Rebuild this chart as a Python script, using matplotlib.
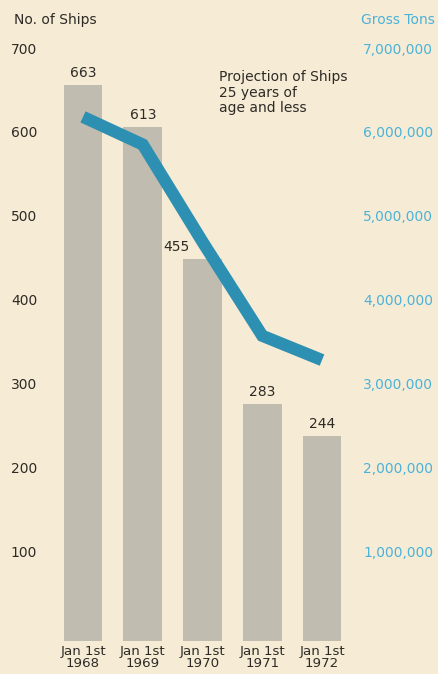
import numpy as np
import matplotlib.pyplot as plt
import matplotlib.transforms as mtransforms

years = ["1968", "1969", "1970", "1971", "1972"]
ships = [663, 613, 455, 283, 244]
tons = [6250000, 5920000, 4760000, 3640000, 3350000]
left_ticks = [100, 200, 300, 400, 500, 600, 700]
right_ticks = [1000000, 2000000, 3000000, 4000000, 5000000, 6000000, 7000000]

bg = "#f6ecd6"
bar_col = "#c0bcb0"
line_col = "#2d90b2"
blue_txt = "#4cb2d8"
txt = "#2e2b26"
fs = 10

plt.rcParams['font.family'] = ['DejaVu Sans']

fig = plt.figure(figsize=(4.38, 6.74), dpi=100, facecolor=bg)
ax = fig.add_axes([45/438, 33/674, 310/438, 587/674])
ax.set_facecolor(bg)
ax2 = ax.twinx()

x = np.arange(len(years))
ax.bar(x, ships, width=0.65, color=bar_col, zorder=1)
ax.set_xlim(-0.636, 4.552)
ax.set_ylim(0, 700)
ax2.set_ylim(0, 7000000)
ax2.plot(x, tons, color=line_col, lw=8.8, solid_capstyle='butt',
         solid_joinstyle='miter', zorder=3)

# value labels over bars
offs = [0, 0, -0.43, 0, 0]
for xi, v, o in zip(x, ships, offs):
    ax.text(xi + o, v + 6, str(v), ha='center', va='bottom', fontsize=fs, color=txt)

ax.text(2.28, 654, "Projection of Ships\n25 years of\nage and less", ha='left', va='center',
        fontsize=fs, color=txt, linespacing=1.15)

for a in (ax, ax2):
    for s in a.spines.values():
        s.set_visible(False)

ax.set_xticks(x)
ax.set_xticklabels(["Jan 1st\n" + y for y in years], fontsize=9.6, color=txt, linespacing=0.88)
ax.tick_params(axis='x', length=0, pad=3)

ax.set_yticks(left_ticks)
ax.set_yticklabels([str(t) for t in left_ticks], fontsize=fs, color=txt)
ax.tick_params(axis='y', length=0, pad=8)
for lab in ax.get_yticklabels():
    lab.set_horizontalalignment('left')
    lab.set_transform(lab.get_transform() + mtransforms.ScaledTranslation(-23/100, 6/100, fig.dpi_scale_trans))

ax2.set_yticks(right_ticks)
ax2.set_yticklabels([f"{t:,}" for t in right_ticks], fontsize=fs, color=blue_txt)
ax2.tick_params(axis='y', length=0, pad=6)
for lab in ax2.get_yticklabels():
    lab.set_transform(lab.get_transform() + mtransforms.ScaledTranslation(0, 6/100, fig.dpi_scale_trans))

fig.text(14/438, 1 - 20/674, "No. of Ships", ha='left', va='center', fontsize=fs, color=txt)
fig.text(435/438, 1 - 20/674, "Gross Tons", ha='right', va='center', fontsize=fs, color=blue_txt)

fig.savefig("out.png", dpi=100, facecolor=bg)
